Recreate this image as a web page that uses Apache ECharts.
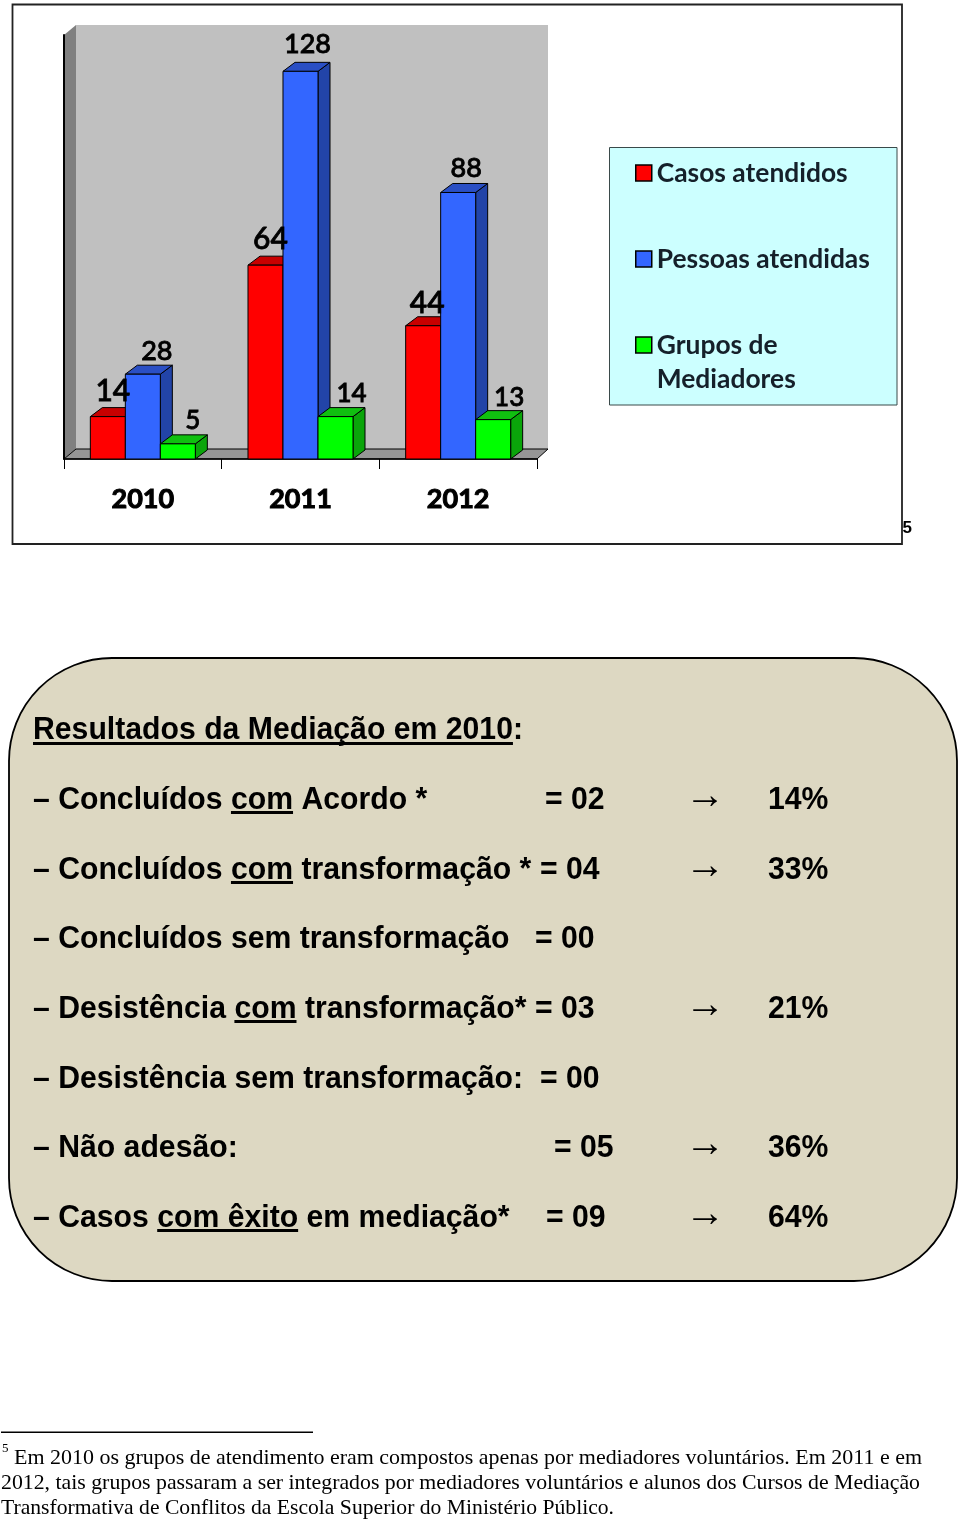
<!DOCTYPE html>
<html><head><meta charset="utf-8">
<style>html,body{margin:0;padding:0;background:#fff}#c{width:960px;height:1521px}</style>
<script src="https://cdn.jsdelivr.net/npm/echarts@6/dist/echarts.min.js"></script>
</head><body><div id="c"></div>
<script>
const years = ['2010','2011','2012'];
const casos = [14,64,44];
const pessoas = [28,128,88];
const grupos = [5,14,13];
const seriesNames = ['Casos atendidos','Pessoas atendidas','Grupos de Mediadores'];

const titleText = 'Resultados da Mediação em 2010:';
const rowLabels = ['– Concluídos com Acordo *','– Concluídos com transformação *','– Concluídos sem transformação','– Desistência com transformação*','– Desistência sem transformação:','– Não adesão:','– Casos com êxito em mediação*'];
const rowValues = ['= 02','= 04','= 00','= 03','= 00','= 05','= 09'];
const rowPercents = ['14%','33%','','21%','','36%','64%'];
const rowUnderlined = ['com','com','','com','','','com êxito'];
const footnote = ['Em 2010 os grupos de atendimento eram compostos apenas por mediadores voluntários. Em 2011 e em','2012, tais grupos passaram a ser integrados por mediadores voluntários e alunos dos Cursos de Mediação','Transformativa de Conflitos da Escola Superior do Ministério Público.'];

// layout / style constants
const valueX = [545,540,535,535,540,554,546];
const rowY = [798,868,937,1007,1077,1146,1216];
const panelFont = 'bold 32px "Liberation Sans"';
const fnFont='22px "Liberation Serif"';
const fnEnds=[922,920,614], fnStarts=[14,1,1], fnY=[1458,1483,1508];
const labelNudge = [[[5,-25],[5,-26],[4,-22]],[[14,-23],[7,-27],[8,-24]],[[15,-23],[16,-23],[16,-22]]];
const faces = [
 {front:'#ff0000',top:'#c80000',side:'#c80000',size:30},
 {front:'#3366ff',top:'#2a4fc4',side:'#2244a8',size:27},
 {front:'#00ff00',top:'#10c010',side:'#0aa50a',size:26}
];
const DX=12, DY=9;

const mc=document.createElement('canvas').getContext('2d');
function tw(t,f){mc.font=f;return mc.measureText(t).width;}
const panelK = 490/tw(titleText,panelFont);

function bar3d(si){
 return function(params,api){
  const cat=api.value(0), val=api.value(1);
  const band=api.size([1,0])[0];
  const w=band*0.222;
  const c=api.coord([cat,val]), b=api.coord([cat,0]);
  const x0=c[0]+(si-1.5)*w, x1=x0+w, yt=c[1], yb=b[1];
  const f=faces[si], s={stroke:'#000',lineWidth:1};
  const n=labelNudge[si][cat];
  return {type:'group',children:[
   {type:'polygon',shape:{points:[[x1,yt],[x1+DX,yt-DY],[x1+DX,yb-DY],[x1,yb]]},style:Object.assign({fill:f.side},s)},
   {type:'polygon',shape:{points:[[x0,yt],[x0+DX,yt-DY],[x1+DX,yt-DY],[x1,yt]]},style:Object.assign({fill:f.top},s)},
   {type:'rect',shape:{x:x0,y:yt,width:w,height:yb-yt},style:Object.assign({fill:f.front},s)},
   {type:'text',z2:50,style:{text:String(val),x:(x0+x1)/2+n[0],y:yt+n[1],align:'center',verticalAlign:'middle',fontFamily:'Lato',fontSize:f.size,fontWeight:500,fill:'#000',stroke:'#000',lineWidth:0.8}}
  ]};
 };
}

const g=[];
// page frame
g.push({type:'rect',shape:{x:12.5,y:4.5,width:889.5,height:539.5},style:{fill:'#fff',stroke:'#222',lineWidth:1.8}});
g.push({type:'text',style:{text:'5',x:902.5,y:537,font:'bold 17px "Liberation Sans"',fill:'#000',verticalAlign:'bottom'}});
// chart walls
g.push({type:'polygon',shape:{points:[[76,25],[548,25],[548,449],[76,449]]},style:{fill:'#c0c0c0'}});
g.push({type:'polygon',shape:{points:[[64,35],[76,25],[76,449],[64,459]]},style:{fill:'#808080'}});
g.push({type:'polygon',shape:{points:[[64,459],[76,449],[548,449],[537,459]]},style:{fill:'#969696',stroke:'#000',lineWidth:1}});
// legend box
g.push({type:'rect',shape:{x:609.5,y:147.5,width:287.5,height:257.5},style:{fill:'#ccffff',stroke:'#3a4a4a',lineWidth:1}});
// panel
g.push({type:'rect',shape:{x:9,y:658,width:948,height:623,r:103},style:{fill:'#ddd8c2',stroke:'#000',lineWidth:1.8}});
function T(t,x,y,font,k){g.push({type:'text',scaleX:k||1,originX:x,originY:y,style:{text:t,x:x,y:y,font:font,fill:'#000',verticalAlign:'middle'}});}
function U(x,y,w){g.push({type:'rect',shape:{x:x,y:y,width:w,height:3},style:{fill:'#000'}});}
T(titleText,33,730,panelFont,panelK);
U(33,742,tw(titleText.slice(0,-1),panelFont)*panelK);
rowLabels.forEach((t,i)=>{
 T(t,33,rowY[i]+2,panelFont,panelK);
 const u=rowUnderlined[i];
 if(u){const p=t.indexOf(u);U(33+tw(t.slice(0,p),panelFont)*panelK,rowY[i]+13,tw(u,panelFont)*panelK);}
 T(rowValues[i],valueX[i],rowY[i]+2,panelFont,panelK);
 if(rowPercents[i]){
  T('→',685,rowY[i]-1,'40px "Liberation Serif"');
  T(rowPercents[i],768,rowY[i]+2,panelFont,panelK);
 }
});
// footnote
g.push({type:'rect',shape:{x:1,y:1431.5,width:312,height:1.5},style:{fill:'#000'}});
T('5',2,1449,'13px "Liberation Serif"');
footnote.forEach((t,i)=>T(t,fnStarts[i],fnY[i],fnFont,(fnEnds[i]-fnStarts[i])/tw(t,fnFont)));

const chart=echarts.init(document.getElementById('c'),null,{renderer:'canvas',width:960,height:1521});
chart.setOption({
 animation:false,
 backgroundColor:'#fff',
 grid:{left:64,top:35,width:473,height:424,containLabel:false},
 xAxis:{type:'category',data:years,axisLine:{show:true,lineStyle:{color:'#000',width:1.5}},axisTick:{show:true,length:10,lineStyle:{color:'#000',width:1}},
  axisLabel:{margin:40,fontFamily:'Lato',fontWeight:'bold',fontSize:27,color:'#000',textBorderColor:'#000',textBorderWidth:1,verticalAlign:'middle'}},
 yAxis:{type:'value',min:0,max:140,interval:20,splitLine:{show:false},axisTick:{show:false},axisLabel:{show:false},axisLine:{show:true,lineStyle:{color:'#000',width:2}}},
 legend:{orient:'vertical',left:630,top:117,itemWidth:16,itemHeight:16,itemGap:-16,icon:'rect',selectedMode:false,
  data:seriesNames.map((n,i)=>({name:n,itemStyle:{color:faces[i].front,borderColor:'#000',borderWidth:1.5}})),
  textStyle:{fontFamily:'Lato',fontWeight:'bold',fontSize:26.4,color:'#15202a',lineHeight:34},
  formatter:n=>n==='Grupos de Mediadores'?'\nGrupos de\nMediadores':'\n'+n+'\n'},
 graphic:{elements:g.map(e=>Object.assign({silent:true},e))},
 series:[casos,pessoas,grupos].map((arr,si)=>({
  type:'custom',name:seriesNames[si],coordinateSystem:'cartesian2d',clip:false,
  itemStyle:{color:faces[si].front},
  encode:{x:0,y:1},
  renderItem:bar3d(si),
  data:arr.map((v,i)=>[i,v])
 }))
});
</script></body></html>
